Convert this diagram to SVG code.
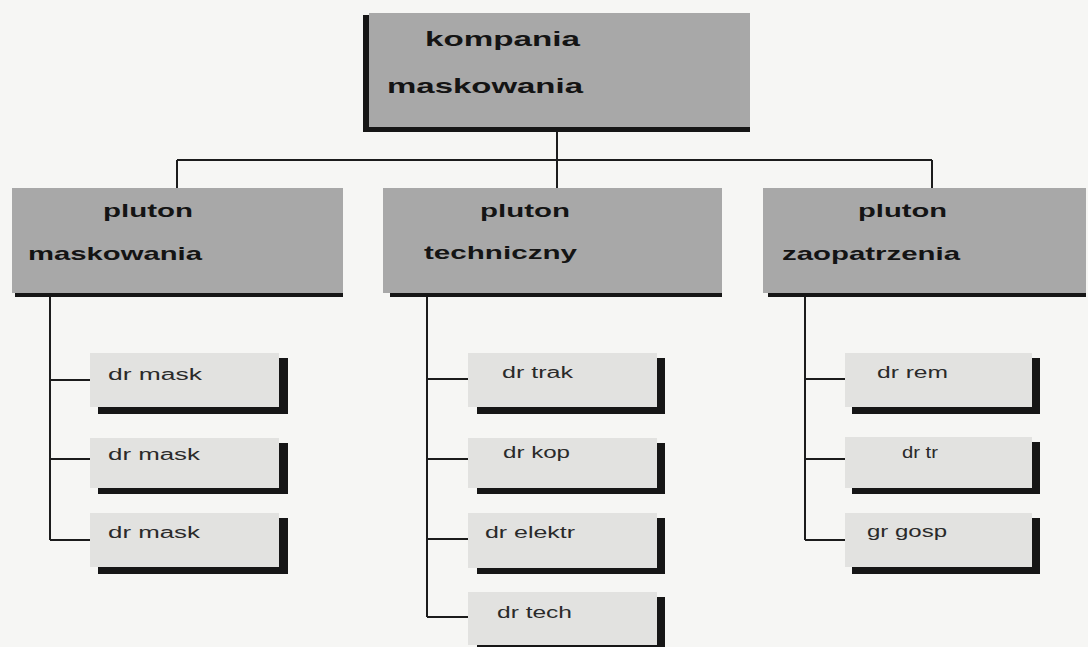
<svg xmlns="http://www.w3.org/2000/svg" width="1088" height="647" viewBox="0 0 1088 647">
  <style>
    .bg { fill: #f6f6f4; }
    .unit { fill: #a8a8a8; }
    .shade { fill: #161616; }
    .squad { fill: #e2e2e0; }
    .line { stroke: #1c1c1c; stroke-width: 2; fill: none; }
    .big { font-family: "Liberation Sans", Arial, sans-serif; font-weight: bold; fill: #141414; }
    .small { font-family: "Liberation Sans", Arial, sans-serif; font-size: 16px; fill: #2a2a2a; }
  </style>

  <rect class="bg" x="0" y="0" width="1088" height="647"/>

  <!-- connectors -->
  <g id="connectors">
    <path class="line" d="M557 131 V160 M177 160 H932 M177 160 V188 M557 160 V188 M932 160 V188"/>
    <path class="line" d="M50 297 V540 M50 380 H90 M50 459 H90 M50 540 H90"/>
    <path class="line" d="M427 297 V617 M427 379 H468 M427 459 H468 M427 539 H468 M427 617 H468"/>
    <path class="line" d="M805 297 V540 M805 379 H845 M805 459 H845 M805 540 H845"/>
  </g>

  <!-- company -->
  <g id="kompania">
    <rect class="shade" x="363" y="15" width="387" height="117"/>
    <rect class="unit" x="369" y="13" width="381" height="114"/>
    <text class="big" x="425" y="46" font-size="21" textLength="155" lengthAdjust="spacingAndGlyphs">kompania</text>
    <text class="big" x="387" y="93" font-size="21" textLength="196" lengthAdjust="spacingAndGlyphs">maskowania</text>
  </g>

  <!-- platoons -->
  <g id="pluton-maskowania">
    <rect class="shade" x="15" y="190" width="328" height="107"/>
    <rect class="unit" x="12" y="188" width="331" height="105"/>
    <text class="big" x="103" y="217" font-size="19" textLength="90" lengthAdjust="spacingAndGlyphs">pluton</text>
    <text class="big" x="28" y="260" font-size="19" textLength="174" lengthAdjust="spacingAndGlyphs">maskowania</text>
  </g>
  <g id="pluton-techniczny">
    <rect class="shade" x="390" y="190" width="332" height="107"/>
    <rect class="unit" x="383" y="188" width="339" height="105"/>
    <text class="big" x="480" y="217" font-size="19" textLength="90" lengthAdjust="spacingAndGlyphs">pluton</text>
    <text class="big" x="424" y="259" font-size="19" textLength="153" lengthAdjust="spacingAndGlyphs">techniczny</text>
  </g>
  <g id="pluton-zaopatrzenia">
    <rect class="shade" x="768" y="190" width="318" height="107"/>
    <rect class="unit" x="763" y="188" width="323" height="105"/>
    <text class="big" x="858" y="217" font-size="19" textLength="89" lengthAdjust="spacingAndGlyphs">pluton</text>
    <text class="big" x="782" y="260" font-size="19" textLength="178" lengthAdjust="spacingAndGlyphs">zaopatrzenia</text>
  </g>

  <!-- squads: masking platoon -->
  <g id="dr-mask-1">
    <rect class="shade" x="98" y="358" width="190" height="56"/>
    <rect class="squad" x="90" y="353" width="189" height="54"/>
    <text class="small" x="108" y="380" textLength="94" lengthAdjust="spacingAndGlyphs">dr mask</text>
  </g>
  <g id="dr-mask-2">
    <rect class="shade" x="98" y="443" width="190" height="51"/>
    <rect class="squad" x="90" y="438" width="189" height="50"/>
    <text class="small" x="108" y="460" textLength="92" lengthAdjust="spacingAndGlyphs">dr mask</text>
  </g>
  <g id="dr-mask-3">
    <rect class="shade" x="98" y="518" width="190" height="56"/>
    <rect class="squad" x="90" y="513" width="189" height="54"/>
    <text class="small" x="108" y="538" textLength="92" lengthAdjust="spacingAndGlyphs">dr mask</text>
  </g>

  <!-- squads: technical platoon -->
  <g id="dr-trak">
    <rect class="shade" x="477" y="358" width="188" height="56"/>
    <rect class="squad" x="468" y="353" width="189" height="54"/>
    <text class="small" x="502" y="378" textLength="71" lengthAdjust="spacingAndGlyphs">dr trak</text>
  </g>
  <g id="dr-kop">
    <rect class="shade" x="477" y="443" width="188" height="51"/>
    <rect class="squad" x="468" y="438" width="189" height="50"/>
    <text class="small" x="503" y="458" textLength="67" lengthAdjust="spacingAndGlyphs">dr kop</text>
  </g>
  <g id="dr-elektr">
    <rect class="shade" x="477" y="518" width="188" height="56"/>
    <rect class="squad" x="468" y="513" width="189" height="55"/>
    <text class="small" x="485" y="538" textLength="90" lengthAdjust="spacingAndGlyphs">dr elektr</text>
  </g>
  <g id="dr-tech">
    <rect class="shade" x="477" y="597" width="188" height="56"/>
    <rect class="squad" x="468" y="592" width="189" height="53"/>
    <text class="small" x="497" y="618" textLength="75" lengthAdjust="spacingAndGlyphs">dr tech</text>
  </g>

  <!-- squads: supply platoon -->
  <g id="dr-rem">
    <rect class="shade" x="852" y="358" width="188" height="56"/>
    <rect class="squad" x="845" y="353" width="187" height="54"/>
    <text class="small" x="877" y="378" textLength="71" lengthAdjust="spacingAndGlyphs">dr rem</text>
  </g>
  <g id="dr-tr">
    <rect class="shade" x="852" y="442" width="188" height="52"/>
    <rect class="squad" x="845" y="437" width="187" height="51"/>
    <text class="small" x="902" y="458" textLength="36" lengthAdjust="spacingAndGlyphs">dr tr</text>
  </g>
  <g id="gr-gosp">
    <rect class="shade" x="852" y="518" width="188" height="56"/>
    <rect class="squad" x="845" y="513" width="187" height="54"/>
    <text class="small" x="867" y="537" textLength="80" lengthAdjust="spacingAndGlyphs">gr gosp</text>
  </g>
</svg>
